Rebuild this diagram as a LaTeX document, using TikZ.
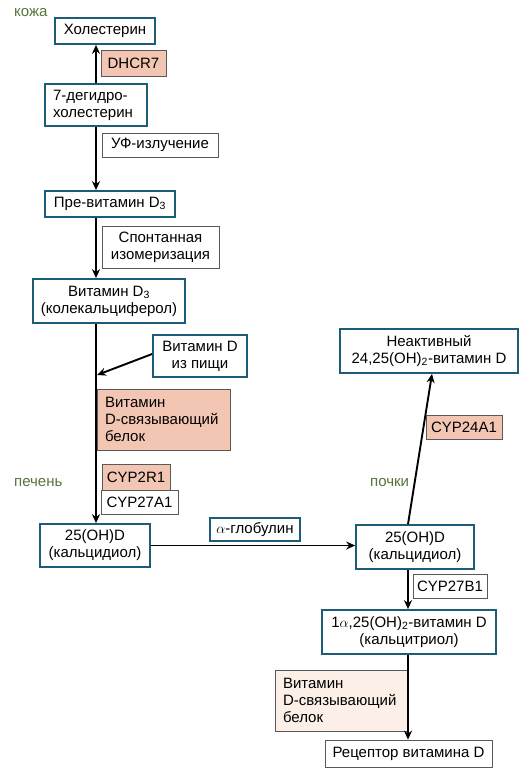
\documentclass[tikz,border=0pt]{standalone}
\usepackage{fontspec}
\setmainfont{Liberation Sans}
\usetikzlibrary{arrows.meta}
\definecolor{boxblue}{HTML}{1E5B78}
\definecolor{enzred}{HTML}{F3C6B3}
\definecolor{palepink}{HTML}{FCEFE8}
\definecolor{organ}{HTML}{55753A}
\begin{document}
\begin{tikzpicture}[x=1pt,y=-1pt,
  every node/.style={font=\fontsize{15}{17}\selectfont,inner xsep=4pt,inner ysep=0pt},
  stage/.style={draw=boxblue,line width=1.7pt,fill=white,align=center},
  enz/.style={draw=black!65,line width=0.7pt,fill=enzred,align=center},
  note/.style={draw=black!65,line width=0.7pt,fill=white,align=center},
  organlbl/.style={text=organ,anchor=west},
  flow/.style={line width=1.9pt,-{Stealth[length=9pt,width=8pt]}}]
 \useasboundingbox (0,0) rectangle (531,773);
 \coordinate (axL) at (96,0);
 \coordinate (axR) at (408,0);
 \coordinate (join) at (97,375);
 % skin
 \node[organlbl] (skin) at (10,13) {кожа};
 \node[stage,minimum width=100,minimum height=26] (hol) at (105,31) {Холестерин};
 \node[enz,minimum width=65,minimum height=26] (dhcr) at (133.5,63) {DHCR7};
 \node[stage,minimum width=102,minimum height=42,text width=86,align=left] (dehyd) at (96,105) {7-дегидро-\\холестерин};
 \node[note,minimum width=116,minimum height=24] (uv) at (160,145) {УФ-излучение};
 \node[stage,minimum width=130,minimum height=26] (pre) at (110,204) {Пре-витамин D\textsubscript{3}};
 \node[note,minimum width=117,minimum height=42] (spont) at (160.5,247) {Спонтанная\\изомеризация};
 \node[stage,minimum width=152,minimum height=44] (vitd3) at (109,301) {Витамин D\textsubscript{3}\\(колекальциферол)};
 \node[stage,minimum width=94,minimum height=42] (food) at (200,356) {Витамин D\\из пищи};
 \node[enz,minimum width=133,minimum height=61,text width=117,align=left] (dbp) at (163.5,419.5) {Витамин\\D-связывающий\\белок};
 % liver
 \node[organlbl] (liver) at (10,483) {печень};
 \node[enz,minimum width=68,minimum height=26] (cyp2r1) at (136,477) {CYP2R1};
 \node[note,minimum width=77,minimum height=24] (cyp27a1) at (139.5,502) {CYP27A1};
 \node[stage,minimum width=110,minimum height=43] (calcL) at (95,545.5) {25(OH)D\\(кальцидиол)};
 \node[stage,minimum width=90,minimum height=23] (glob) at (255,529.5) {$\alpha$-глобулин};
 % kidney
 \node[organlbl] (kidney) at (366,483) {почки};
 \node[stage,minimum width=118,minimum height=44] (calcR) at (415,547) {25(OH)D\\(кальцидиол)};
 \node[stage,minimum width=178,minimum height=44] (inact) at (429,351) {Неактивный\\24,25(OH)\textsubscript{2}-витамин D};
 \node[enz,minimum width=76,minimum height=24] (cyp24) at (464,427) {CYP24A1};
 \node[note,minimum width=74,minimum height=24] (cyp27b1) at (450,586) {CYP27B1};
 \node[stage,minimum width=174,minimum height=44] (calctri) at (409,632) {1$\alpha$,25(OH)\textsubscript{2}-витамин D\\(кальцитриол)};
 \node[draw=black!65,line width=0.7pt,fill=palepink,minimum width=133,minimum height=61,text width=117,align=left] (dbp2) at (341.5,700.5) {Витамин\\D-связывающий\\белок};
 \node[note,minimum width=167,minimum height=27] (vdr) at (408.5,753.5) {Рецептор витамина D};
 % arrows
 \draw[flow] (dehyd.north -| axL) -- (hol.south -| axL);
 \draw[flow] (dehyd.south -| axL) -- (pre.north -| axL);
 \draw[flow] (pre.south -| axL) -- (vitd3.north -| axL);
 \draw[flow] (vitd3.south -| axL) -- (calcL.north -| axL);
 \draw[flow] ([yshift=2pt]food.west) -- (join);
 \draw[flow] (calcL.east) -- (calcL.east -| calcR.west);
 \draw[flow] (calcR.north -| axR) -- ([xshift=3pt]inact.south);
 \draw[flow] (calcR.south -| axR) -- (calctri.north -| axR);
 \draw[flow] (calctri.south -| axR) -- (vdr.north -| axR);
\end{tikzpicture}
\end{document}
